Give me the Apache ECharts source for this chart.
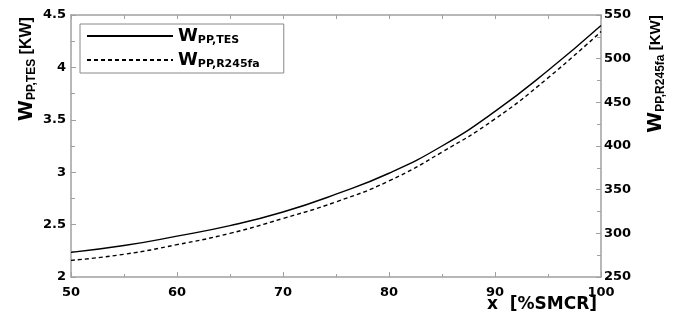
<!DOCTYPE html>
<html>
<head>
<meta charset="utf-8">
<script src="https://cdn.jsdelivr.net/npm/echarts@6/dist/echarts.min.js"></script>
<style>
html,body{margin:0;padding:0;background:#fff;}
#chart{width:676px;height:320px;}
</style>
</head>
<body>
<div id="chart"></div>
<script>
// x values (%SMCR)
const xValues = [50, 55, 60, 65, 70, 75, 80, 85, 90, 95, 100];
// W_PP,TES [KW] (left axis)
const wppTES = [2.235, 2.30, 2.39, 2.49, 2.62, 2.79, 2.99, 3.25, 3.58, 3.97, 4.40];
// W_PP,R245fa [KW] (right axis)
const wppR245fa = [269, 276, 287, 300, 317, 336, 360, 393, 431, 478, 531];
const seriesNames = ['tes', 'r245fa'];
const legendSubs = {tes: 'PP,TES', r245fa: 'PP,R245fa'};

const axisGray = '#a0a0a0';
const labelFont = {color: '#000', fontFamily: 'DejaVu Sans', fontWeight: 'bold', fontSize: 13};

const chart = echarts.init(document.getElementById('chart'), null, {renderer: 'canvas'});
chart.setOption({
  animation: false,
  backgroundColor: '#fff',
  grid: {left: 71, right: 75, top: 15, bottom: 43, show: false},
  legend: {
    orient: 'vertical',
    left: 80, top: 24,
    data: seriesNames,
    itemWidth: 86, itemHeight: 14, itemGap: 5,
    padding: [3, 24, 3, 6],
    borderColor: '#888', borderWidth: 1,
    backgroundColor: '#fff',
    itemStyle: {opacity: 0},
    formatter: n => '{w|W}{s|' + legendSubs[n] + '}',
    textStyle: {
      rich: {
        w: {fontSize: 18, fontWeight: 'bold', fontFamily: 'DejaVu Sans', color: '#000', lineHeight: 20, verticalAlign: 'middle'},
        s: {fontSize: 11, fontWeight: 'bold', fontFamily: 'DejaVu Sans', color: '#000', lineHeight: 12, verticalAlign: 'bottom'}
      }
    }
  },
  xAxis: [{
    type: 'value', min: 50, max: 100, interval: 10, position: 'bottom',
    axisLine: {lineStyle: {color: axisGray, width: 1.5}},
    axisTick: {inside: true, length: 5, lineStyle: {color: axisGray}},
    minorTick: {show: true, splitNumber: 2, length: 3, lineStyle: {color: axisGray}},
    splitLine: {show: false},
    axisLabel: Object.assign({margin: 9}, labelFont)
  }, {
    type: 'value', min: 50, max: 100, interval: 5, position: 'top',
    axisLine: {lineStyle: {color: axisGray, width: 1.5}},
    axisTick: {inside: true, length: 4, lineStyle: {color: axisGray}},
    splitLine: {show: false},
    axisLabel: {show: false}
  }],
  yAxis: [{
    type: 'value', min: 2, max: 4.5, interval: 0.5, position: 'left',
    axisLine: {show: true, lineStyle: {color: axisGray, width: 1.5}},
    axisTick: {show: true, inside: true, length: 5, lineStyle: {color: axisGray}},
    minorTick: {show: true, splitNumber: 2, length: 4, lineStyle: {color: axisGray}},
    splitLine: {show: false},
    axisLabel: Object.assign({margin: 5}, labelFont)
  }, {
    type: 'value', min: 250, max: 550, interval: 50, position: 'right',
    axisLine: {show: true, lineStyle: {color: axisGray, width: 1.5}},
    axisTick: {show: true, inside: true, length: 5, lineStyle: {color: axisGray}},
    minorTick: {show: true, splitNumber: 2, length: 4, lineStyle: {color: axisGray}},
    splitLine: {show: false},
    axisLabel: Object.assign({margin: 3}, labelFont)
  }],
  series: [{
    name: 'tes', type: 'line', xAxisIndex: 0, yAxisIndex: 0,
    data: xValues.map((x, i) => [x, wppTES[i]]),
    smooth: true, symbol: 'none',
    lineStyle: {color: '#000', width: 1.4, type: 'solid'},
    itemStyle: {color: '#000'}
  }, {
    name: 'r245fa', type: 'line', xAxisIndex: 0, yAxisIndex: 1,
    data: xValues.map((x, i) => [x, wppR245fa[i]]),
    smooth: true, symbol: 'none',
    lineStyle: {color: '#000', width: 1.4, type: [4, 3]},
    itemStyle: {color: '#000'}
  }],
  graphic: [{
    type: 'text', x: 27, y: 69, rotation: Math.PI / 2,
    style: {
      text: '{w|W}{s|PP,TES}{k| [KW]}',
      align: 'center', verticalAlign: 'middle', fill: '#000',
      rich: {
        w: {fontSize: 19, fontWeight: 'bold', fontFamily: 'DejaVu Sans', lineHeight: 22, verticalAlign: 'middle'},
        s: {fontSize: 12, fontWeight: 'bold', fontFamily: 'Liberation Sans', lineHeight: 14, verticalAlign: 'bottom'},
        k: {fontSize: 16, fontWeight: 'bold', fontFamily: 'Liberation Sans', lineHeight: 22, verticalAlign: 'middle'}
      }
    }
  }, {
    type: 'text', x: 656, y: 74, rotation: Math.PI / 2,
    style: {
      text: '{w|W}{s|PP,R245fa}{k| [KW]}',
      align: 'center', verticalAlign: 'middle', fill: '#000',
      rich: {
        w: {fontSize: 19, fontWeight: 'bold', fontFamily: 'DejaVu Sans', lineHeight: 22, verticalAlign: 'middle'},
        s: {fontSize: 12, fontWeight: 'bold', fontFamily: 'Liberation Sans', lineHeight: 14, verticalAlign: 'bottom'},
        k: {fontSize: 15, fontWeight: 'bold', fontFamily: 'Liberation Sans', lineHeight: 22, verticalAlign: 'middle'}
      }
    }
  }, {
    type: 'text', x: 597, y: 305,
    style: {
      text: 'x  [%SMCR]',
      align: 'right', verticalAlign: 'middle', fill: '#000',
      fontSize: 17, fontWeight: 'bold', fontFamily: 'DejaVu Sans'
    }
  }]
});
</script>
</body>
</html>
